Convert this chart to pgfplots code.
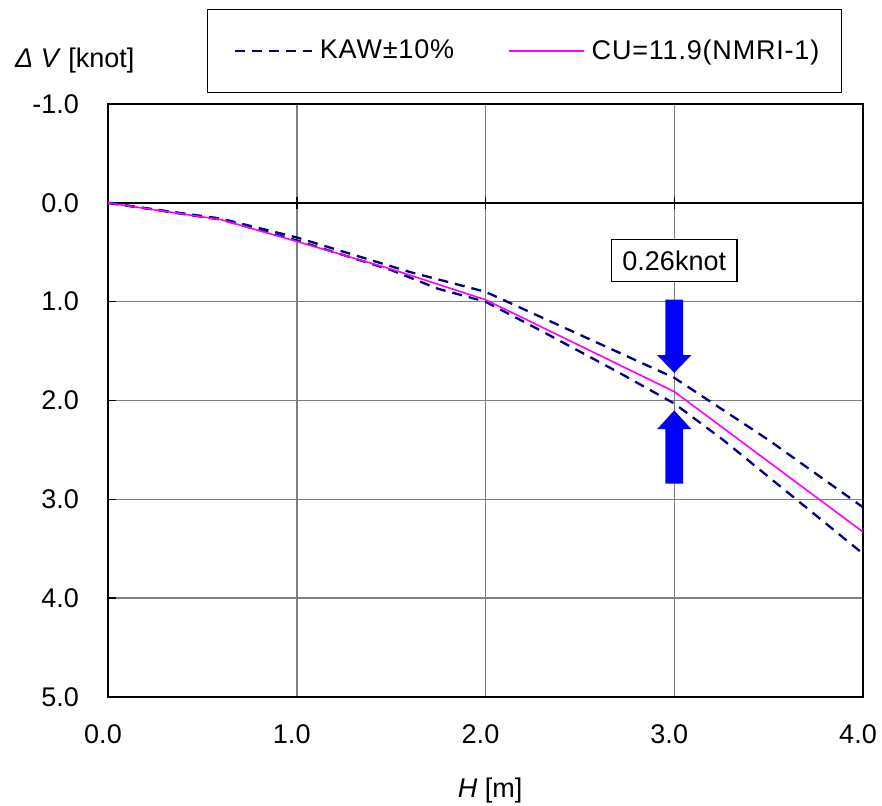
\documentclass[border=0pt]{standalone}
\usepackage{fontspec}
\setmainfont{Liberation Sans}
\newfontfamily\legfont[LetterSpace=3]{Liberation Sans}
\usepackage{pgfplots}
\pgfplotsset{compat=1.18}
\definecolor{kawnavy}{RGB}{0,0,128}
\definecolor{cumag}{RGB}{255,0,255}
\definecolor{gridgray}{RGB}{128,128,128}
\definecolor{arrowblue}{RGB}{0,0,255}
\pgfplotsset{
  kawline/.style={kawnavy, line width=1.15pt, dash pattern=on 5pt off 3.5pt,
    legend image code/.code={\path (0pt,0pt); \draw[##1] (4pt,0pt) -- (42.5pt,0pt);}},
  culine/.style={cumag, line width=0.8pt,
    legend image code/.code={\path (0pt,0pt); \draw[##1] (4pt,0pt) -- (41.5pt,0pt);}},
}

\begin{document}
\begin{tikzpicture}
\useasboundingbox (-54pt,-54pt) rectangle (387pt,348.5pt);
\begin{axis}[
  at={(0,0)}, anchor=south west,
  scale only axis, width=377.5pt, height=296.5pt,
  xmin=0, xmax=4, ymin=-1, ymax=5, y dir=reverse,
  xtick={0,1,2,3,4}, ytick={-1,0,1,2,3,4,5},
  grid=major, grid style={gridgray, line width=0.75pt},
  axis line style={black, line width=0.75pt},
  tick align=inside, major tick length=4pt, ytick pos=left,
  xtick style={draw=none}, ytick style={black, line width=0.75pt},
  ticklabel style={font=\fontsize{13.5}{16}\selectfont},
  /pgf/number format/fixed, /pgf/number format/fixed zerofill,
  /pgf/number format/precision=1, /pgf/number format/assume math mode=true,
  yticklabel style={anchor=east, xshift=-11pt},
  xticklabel style={anchor=north, yshift=-10.5pt, xshift=-2.5pt},
  clip mode=individual,
  legend columns=2, legend cell align=left,
  legend style={at={(0,1)}, anchor=north west, xshift=49.5pt, yshift=47.5pt,
    draw=black, line width=0.6pt, inner xsep=9pt, inner ysep=13pt,
    font=\fontsize{13.5}{16}\legfont,
    /tikz/every odd column/.append style={column sep=1.5pt},
    /tikz/every even column/.append style={column sep=21pt}},
]
% axis line at 0 with crossing ticks
\draw[black, line width=0.75pt] (axis cs:0,0) -- (axis cs:4,0);
\draw[black, line width=0.75pt] ([yshift=-3pt]axis cs:1,0) -- ([yshift=3pt]axis cs:1,0);
\draw[black, line width=0.75pt] ([yshift=-3pt]axis cs:2,0) -- ([yshift=3pt]axis cs:2,0);
\draw[black, line width=0.75pt] ([yshift=-3pt]axis cs:3,0) -- ([yshift=3pt]axis cs:3,0);

% KAW +10% / -10%
\addplot[kawline] coordinates {
  (0,0) (0.6,0.16) (1.0,0.35) (1.6,0.70) (2.0,0.90) (3.0,1.77) (3.5,2.40) (4.0,3.08)
};
\addlegendentry{KAW±10\%}
\addplot[kawline, forget plot] coordinates {
  (0,0) (0.6,0.17) (1.0,0.38) (1.5,0.68) (1.75,0.87) (2.0,1.0) (2.3,1.30)
  (2.7,1.71) (3.0,2.03) (3.26,2.40) (4.0,3.55)
};

% CU = 11.9
\addplot[culine] coordinates {
  (0,0) (0.6,0.17) (1.0,0.39) (1.5,0.67) (2.0,0.98) (3.0,1.91) (3.5,2.62) (4.0,3.33)
};
\addlegendentry{CU=11.9(NMRI-1)}

% arrows marking the 0.26 knot band
\addplot[fill=arrowblue, draw=none, forget plot] coordinates {
  (2.953,0.98) (3.047,0.98) (3.047,1.54) (3.091,1.54) (3,1.72) (2.909,1.54) (2.953,1.54)
} -- cycle;
\addplot[fill=arrowblue, draw=none, forget plot] coordinates {
  (2.953,2.84) (3.047,2.84) (3.047,2.29) (3.091,2.29) (3,2.10) (2.909,2.29) (2.953,2.29)
} -- cycle;

\node[draw=black, fill=white, line width=0.6pt, inner xsep=5.5pt, minimum height=21pt,
  font=\fontsize{13.5}{16}\selectfont] at (axis cs:3,0.587) {0.26knot};

\node[anchor=base, font=\fontsize{13.5}{16}\selectfont, xshift=-16.6pt, yshift=18.5pt]
  at (axis description cs:0,1) {\textit{Δ}\ \textit{V} [knot]};
\node[anchor=base, font=\fontsize{13.5}{16}\selectfont, yshift=-50pt]
  at (axis description cs:0.506,0) {\textit{H} [m]};
\end{axis}
\end{tikzpicture}
\end{document}
